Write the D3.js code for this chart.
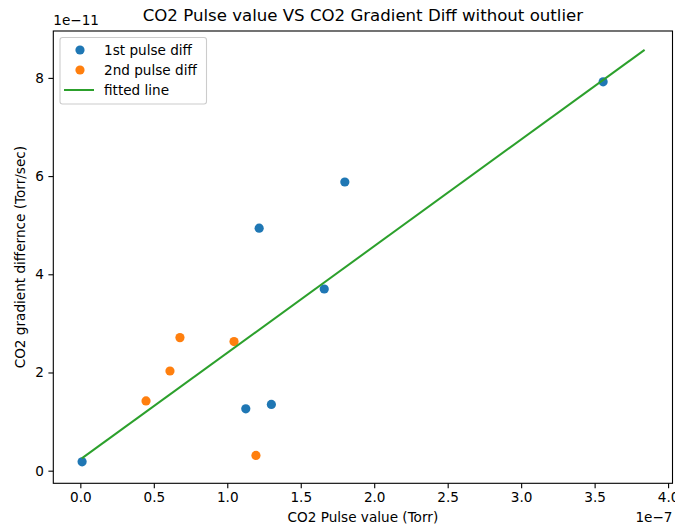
<!DOCTYPE html>
<html>
<head>
<meta charset="utf-8">
<script src="https://cdn.jsdelivr.net/npm/d3@7"></script>
<style>
  html, body { margin: 0; padding: 0; background: #fff; }
  svg text { font-family: "DejaVu Sans", sans-serif; fill: #000; }
</style>
</head>
<body>
<svg id="chart" width="675" height="529"></svg>
<script>
// Pulse values in units of 1e-7 Torr, gradient differences in units of 1e-11 Torr/sec
const firstPulseX = [0.012, 1.126, 1.30, 1.217, 1.66, 1.80, 3.558];
const firstPulseY = [0.18, 1.26, 1.35, 4.94, 3.70, 5.88, 7.92];
const secondPulseX = [0.447, 0.61, 0.678, 1.046, 1.195];
const secondPulseY = [1.42, 2.03, 2.71, 2.63, 0.31];
const fitX = [0.01, 3.84];
const fitY = [0.25, 8.57];
const xTicks = [0.0, 0.5, 1.0, 1.5, 2.0, 2.5, 3.0, 3.5, 4.0];
const yTicks = [0, 2, 4, 6, 8];
const seriesNames = ["1st pulse diff", "2nd pulse diff", "fitted line"];
const colors = ["#1f77b4", "#ff7f0e", "#2ca02c"];

const svg = d3.select("#chart");
const m = { left: 53.3, right: 672.5, top: 31, bottom: 483.3 };

const x = d3.scaleLinear().domain([-0.184, 4.03]).range([m.left, m.right]);
const y = d3.scaleLinear().domain([-0.257, 8.955]).range([m.bottom, m.top]);

const baseFont = "13.6px";

// axes
const xAxis = svg.append("g")
  .attr("transform", `translate(0,${m.bottom})`)
  .call(d3.axisBottom(x).tickValues(xTicks).tickFormat(d3.format(".1f")).tickSize(4.9).tickPadding(4));
const yAxis = svg.append("g")
  .attr("transform", `translate(${m.left},0)`)
  .call(d3.axisLeft(y).tickValues(yTicks).tickFormat(d3.format("d")).tickSize(4.9).tickPadding(4.5));
[xAxis, yAxis].forEach(g => {
  g.select(".domain").remove();
  g.selectAll(".tick line").attr("stroke", "#000").attr("stroke-width", 1.1);
  g.selectAll(".tick text").style("font-size", baseFont).attr("fill", "#000");
});

// frame
svg.append("rect")
  .attr("x", m.left).attr("y", m.top)
  .attr("width", m.right - m.left).attr("height", m.bottom - m.top)
  .attr("fill", "none").attr("stroke", "#000").attr("stroke-width", 1.1);

const plot = svg.append("g");

// scatter series
function dots(xs, ys, color) {
  plot.selectAll(null).data(xs.map((v, i) => [v, ys[i]])).enter()
    .append("circle")
    .attr("cx", d => x(d[0])).attr("cy", d => y(d[1]))
    .attr("r", 4.6)
    .attr("fill", color);
}
dots(firstPulseX, firstPulseY, colors[0]);
dots(secondPulseX, secondPulseY, colors[1]);

// fitted line
plot.append("path")
  .datum(fitX.map((v, i) => [v, fitY[i]]))
  .attr("d", d3.line().x(d => x(d[0])).y(d => y(d[1])))
  .attr("fill", "none").attr("stroke", colors[2]).attr("stroke-width", 2);

// title and labels
svg.append("text").attr("x", (m.left + m.right) / 2).attr("y", 21)
  .attr("text-anchor", "middle").style("font-size", "16.6px")
  .text("CO2 Pulse value VS CO2 Gradient Diff without outlier");
svg.append("text").attr("x", (m.left + m.right) / 2).attr("y", 522)
  .attr("text-anchor", "middle").style("font-size", baseFont)
  .text("CO2 Pulse value (Torr)");
svg.append("text")
  .attr("transform", `translate(25,${(m.top + m.bottom) / 2}) rotate(-90)`)
  .attr("text-anchor", "middle").style("font-size", baseFont)
  .text("CO2 gradient differnce (Torr/sec)");
svg.append("text").attr("x", m.left).attr("y", 25)
  .style("font-size", baseFont).text("1e\u221211");
svg.append("text").attr("x", m.right).attr("y", 522)
  .attr("text-anchor", "end").style("font-size", baseFont).text("1e\u22127");

// legend
const lg = svg.append("g");
lg.append("rect").attr("x", 60).attr("y", 37.5).attr("width", 146.5).attr("height", 66.5)
  .attr("rx", 2.5).attr("fill", "#fff").attr("fill-opacity", 0.8)
  .attr("stroke", "#cccccc").attr("stroke-width", 1.1);
seriesNames.forEach((name, i) => {
  const cy = 50 + i * 20;
  if (i < 2) {
    lg.append("circle").attr("cx", 80).attr("cy", cy).attr("r", 4.6).attr("fill", colors[i]);
  } else {
    lg.append("line").attr("x1", 64).attr("x2", 94).attr("y1", cy).attr("y2", cy)
      .attr("stroke", colors[i]).attr("stroke-width", 2);
  }
  lg.append("text").attr("x", 104).attr("y", cy).attr("dy", "0.35em")
    .style("font-size", baseFont).text(name);
});
</script>
</body>
</html>
